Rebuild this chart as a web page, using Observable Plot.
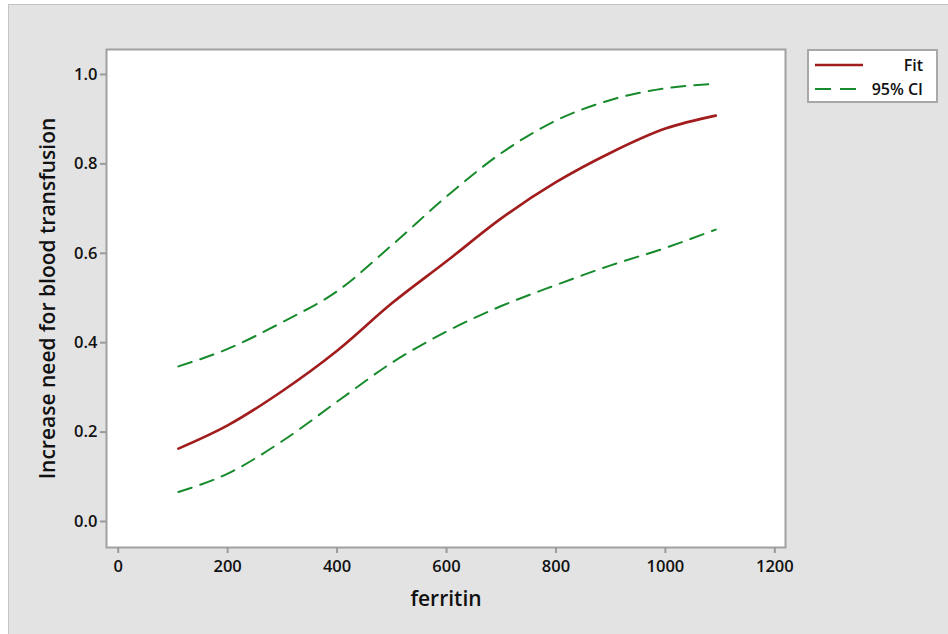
<!DOCTYPE html>
<html>
<head>
<meta charset="utf-8">
<script src="https://cdn.jsdelivr.net/npm/d3@7"></script>
<script src="https://cdn.jsdelivr.net/npm/@observablehq/plot@0.6"></script>
<style>
  html, body { margin: 0; padding: 0; background: #ffffff; }
  #wrap { position: relative; width: 948px; height: 634px; overflow: hidden; font-family: "Open Sans", "Noto Sans", sans-serif; }
  #panel { position: absolute; left: 8px; top: 4px; width: 945px; height: 640px; background: #e3e3e3; border: 1px solid #c4c4c4; box-sizing: border-box; }
  #chart { position: absolute; left: 0; top: 0; }
  #chart g[aria-label="x-axis tick"], #chart g[aria-label="y-axis tick"] { stroke: #9a9a9a; }
  #chart g[aria-label="x-axis tick label"], #chart g[aria-label="y-axis tick label"] { font-weight: 600; }
  #legend { position: absolute; left: 807px; top: 49px; width: 131px; height: 54px; box-sizing: border-box; background: #fff; border: 2px solid #a8a8a8; }
  #legend .row { position: absolute; left: 0; width: 127px; height: 20px; }
  #legend svg { position: absolute; left: 4px; top: 0; }
  #legend span { position: absolute; right: 13px; top: 0; line-height: 20px; font-size: 16px; font-weight: 600; color: #111; }
</style>
</head>
<body>
<div id="wrap">
  <div id="panel"></div>
  <div id="chart"></div>
  <div id="legend"></div>
</div>
<script>
// Data
const ferritin = [110, 200, 300, 400, 500, 600, 700, 800, 900, 1000, 1092];
const fit      = [0.163, 0.215, 0.292, 0.382, 0.488, 0.582, 0.678, 0.759, 0.825, 0.879, 0.908];
const upperCI  = [0.347, 0.386, 0.446, 0.515, 0.618, 0.727, 0.824, 0.897, 0.943, 0.969, 0.979];
const lowerCI  = [0.066, 0.107, 0.180, 0.268, 0.355, 0.425, 0.482, 0.529, 0.573, 0.612, 0.653];
const xTicks = [0, 200, 400, 600, 800, 1000, 1200];
const yTicks = [0.0, 0.2, 0.4, 0.6, 0.8, 1.0];
const legendLabels = ["Fit", "95% CI"];
const xLabel = "ferritin";
const yLabel = "Increase need for blood transfusion";

const red = "#a11c1c";
const green = "#178a2c";

const fitData = ferritin.map((x, i) => ({x, y: fit[i]}));
const upData = ferritin.map((x, i) => ({x, y: upperCI[i]}));
const loData = ferritin.map((x, i) => ({x, y: lowerCI[i]}));

const chart = Plot.plot({
  width: 948,
  height: 634,
  marginLeft: 106,
  marginRight: 163,
  marginTop: 49,
  marginBottom: 87,
  style: { background: "transparent", color: "#111", fontFamily: "'Open Sans', 'Noto Sans', sans-serif", overflow: "visible" },
  x: { domain: [-21.4, 1219.5], ticks: xTicks, label: null },
  y: { domain: [-0.0582, 1.0559], ticks: yTicks, label: null },
  marks: [
    Plot.frame({ fill: "white", stroke: "none" }),
    Plot.line(upData, { x: "x", y: "y", stroke: green, strokeWidth: 2, strokeDasharray: "14,9", curve: "monotone-x" }),
    Plot.line(loData, { x: "x", y: "y", stroke: green, strokeWidth: 2, strokeDasharray: "14,9", curve: "monotone-x" }),
    Plot.line(fitData, { x: "x", y: "y", stroke: red, strokeWidth: 2.6, curve: "monotone-x" }),
    Plot.frame({ stroke: "#a0a0a0", strokeWidth: 2 }),
    Plot.axisX({ ticks: xTicks, tickSize: 6, tickPadding: 7, fontSize: 16.5, tickFormat: d => String(d), label: null, strokeWidth: 2 }),
    Plot.axisY({ ticks: yTicks, tickSize: 6, tickPadding: 3, fontSize: 16.5, tickFormat: d => d.toFixed(1), label: null, strokeWidth: 2 }),
    Plot.text([xLabel], { frameAnchor: "bottom", dy: 52, text: d => d, fontSize: 21, fontWeight: 600, fill: "#111", lineAnchor: "middle", textAnchor: "middle" }),
    Plot.text([yLabel], { frameAnchor: "left", dx: -58, text: d => d, rotate: -90, fontSize: 21, fontWeight: 600, fill: "#111", lineAnchor: "middle", textAnchor: "middle" })
  ]
});
document.getElementById("chart").appendChild(chart);

// Legend (HTML overlay)
const legend = document.getElementById("legend");
const styles = [
  { stroke: red, width: 2.6, dash: null },
  { stroke: green, width: 2, dash: "16,9" }
];
legendLabels.forEach((lab, i) => {
  const row = document.createElement("div");
  row.className = "row";
  row.style.top = (i === 0 ? 4 : 28) + "px";
  const s = styles[i];
  row.innerHTML = `<svg width="52" height="20"><line x1="2" x2="${i === 0 ? 50 : 44}" y1="10" y2="10" stroke="${s.stroke}" stroke-width="${s.width}" ${s.dash ? `stroke-dasharray="${s.dash}"` : ""}/></svg><span>${lab}</span>`;
  legend.appendChild(row);
});
</script>
</body>
</html>
